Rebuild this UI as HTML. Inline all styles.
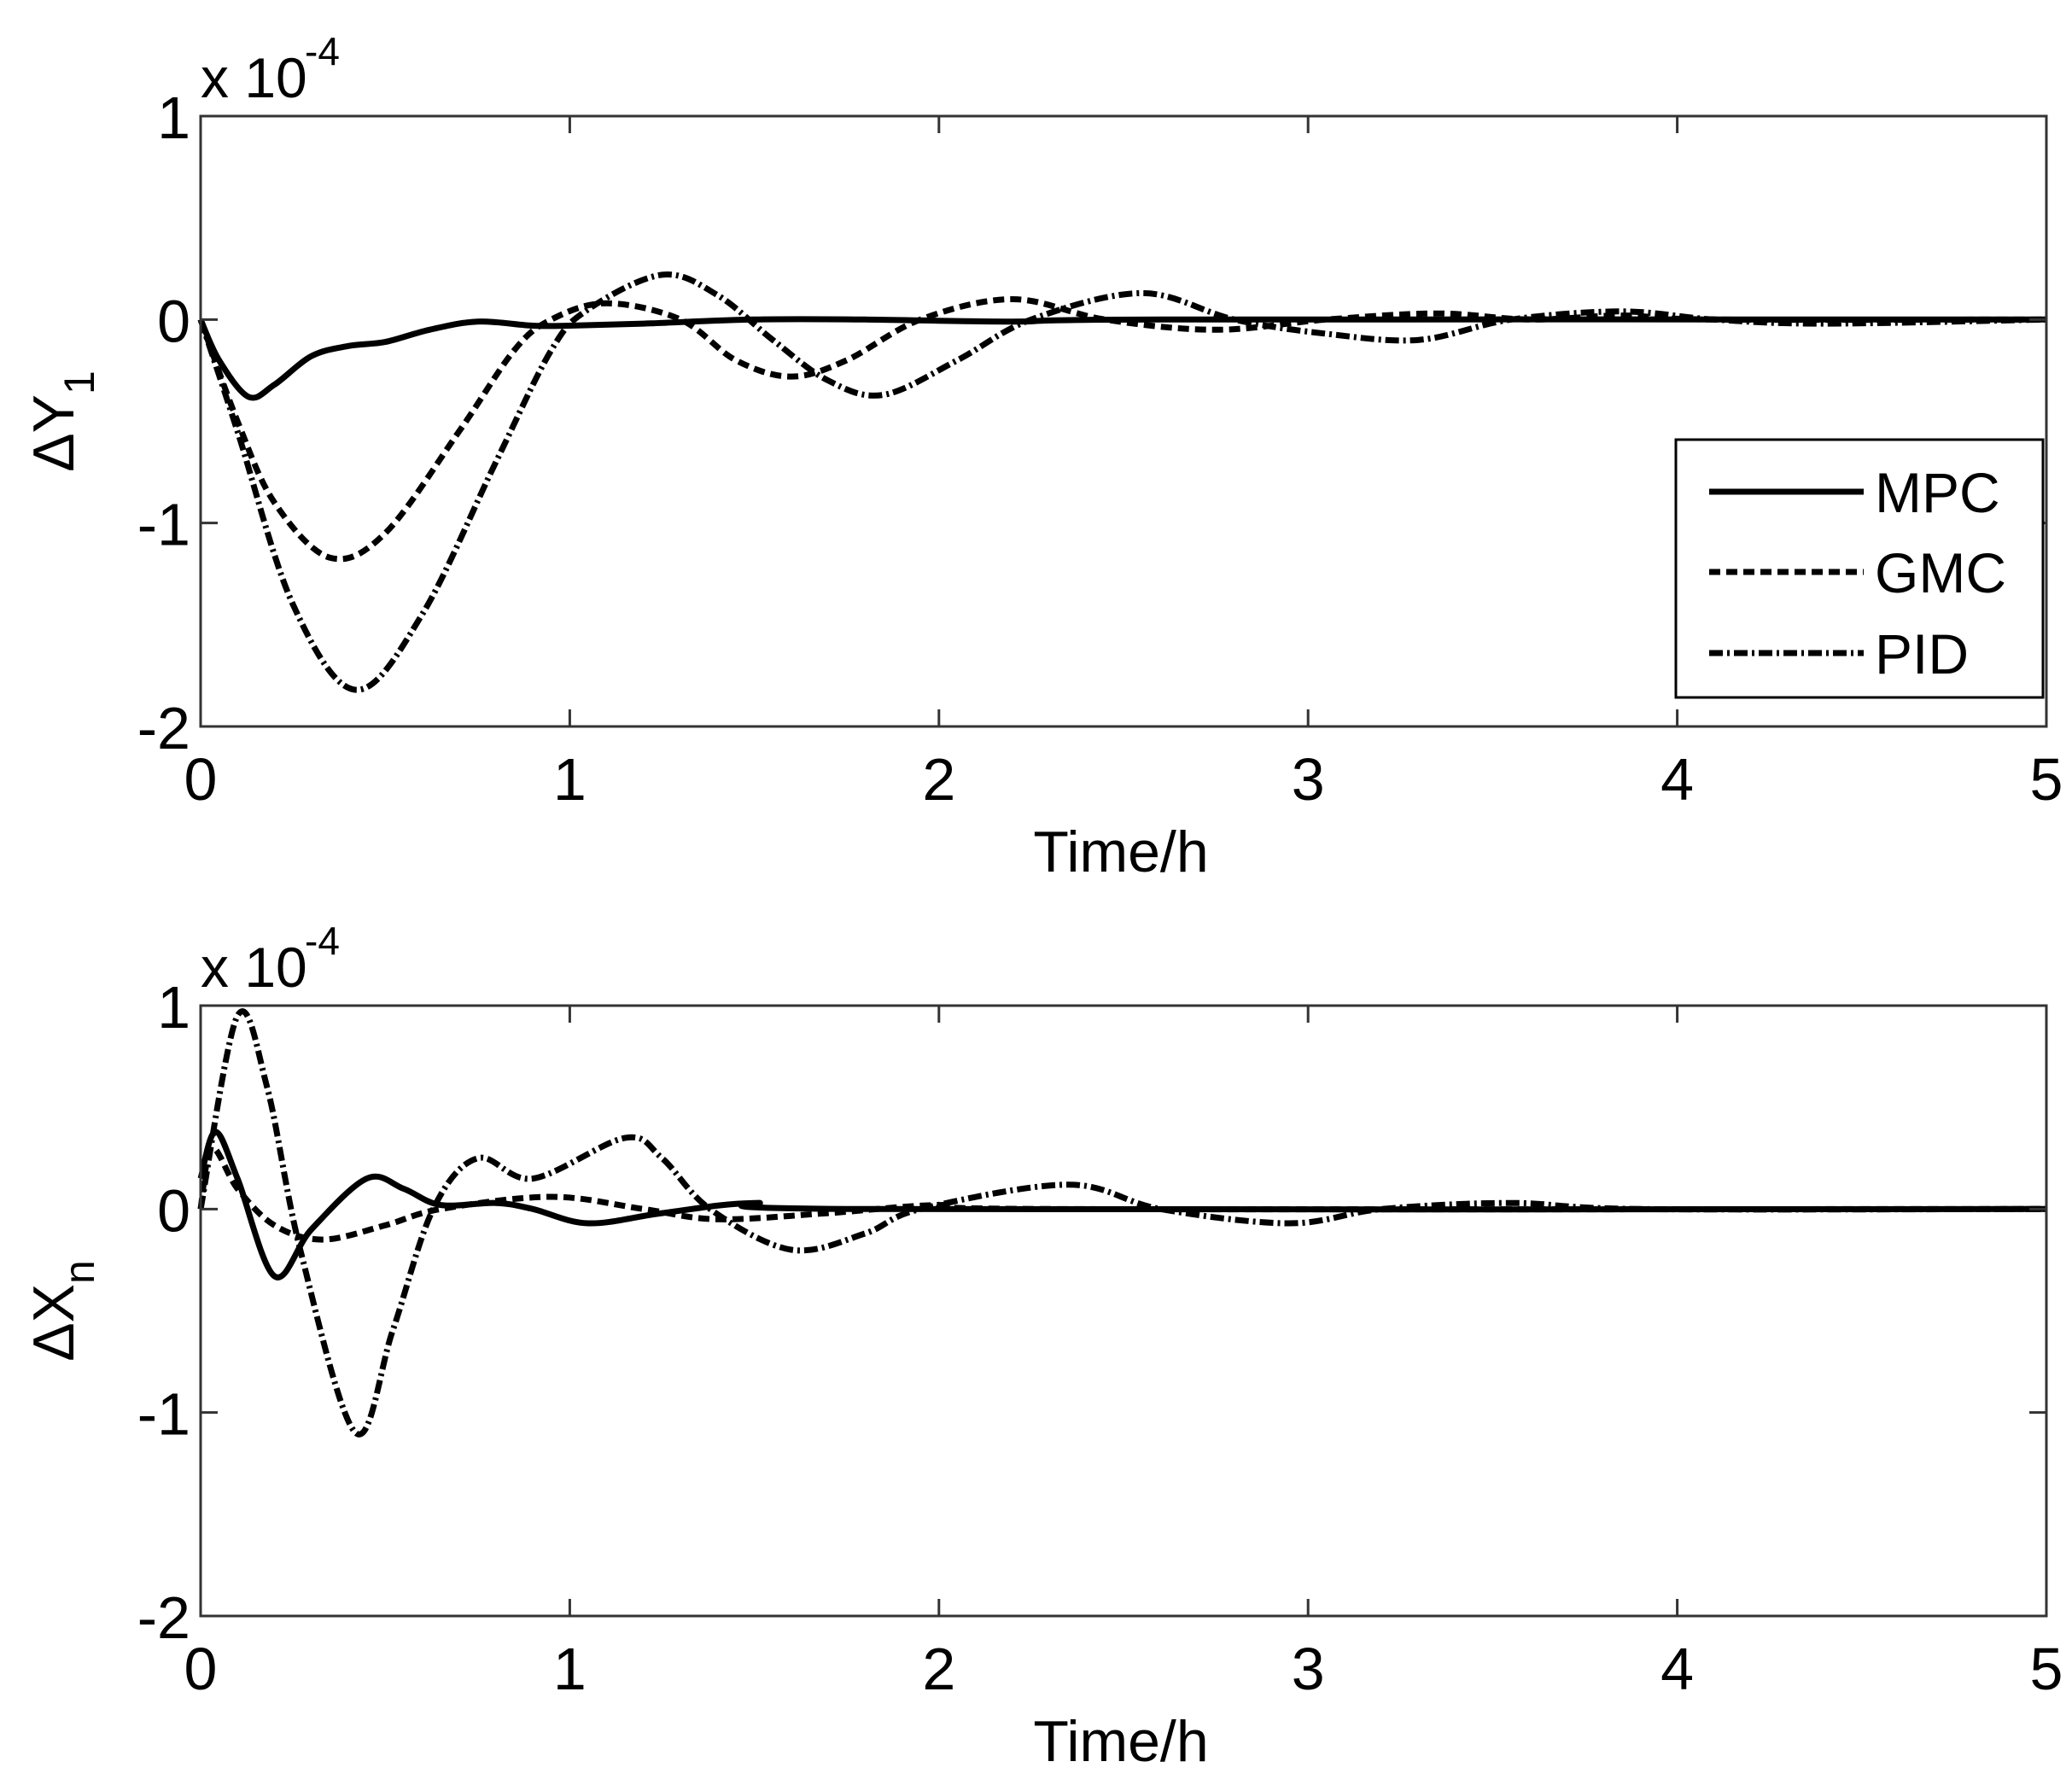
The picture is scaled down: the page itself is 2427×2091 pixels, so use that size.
<!DOCTYPE html>
<html><head><meta charset="utf-8"><style>
html,body{margin:0;padding:0;background:#fff;}
svg{display:block;font-family:"Liberation Sans",Arial,sans-serif;}
</style></head><body>
<svg id="s" width="2427" height="2091" viewBox="0 0 2427 2091" xmlns="http://www.w3.org/2000/svg">
<rect width="2427" height="2091" fill="#fff"/>
<g id="g"></g>
</svg>
<script>
var NS="http://www.w3.org/2000/svg",g=document.getElementById('g');
function el(t,a,txt){var e=document.createElementNS(NS,t);for(var k in a)e.setAttribute(k,a[k]);if(txt!=null)e.textContent=txt;g.appendChild(e);return e;}
var X0=235,X1=2397,XU=(X1-X0)/5;
function cr(pts,fx,fy){var p=pts.map(function(q){return [fx(q[0]),fy(q[1])];});var d="M"+p[0][0]+","+p[0][1];
for(var i=0;i<p.length-1;i++){var a=p[Math.max(i-1,0)],b=p[i],c=p[i+1],e=p[Math.min(i+2,p.length-1)];
var c1=[b[0]+(c[0]-a[0])/6,b[1]+(c[1]-a[1])/6],c2=[c[0]-(e[0]-b[0])/6,c[1]-(e[1]-b[1])/6];
d+=" C"+c1[0].toFixed(1)+","+c1[1].toFixed(1)+" "+c2[0].toFixed(1)+","+c2[1].toFixed(1)+" "+c[0].toFixed(1)+","+c[1].toFixed(1);}return d;}
var styles={mpc:{"stroke-width":7},gmc:{"stroke-width":7,"stroke-dasharray":"13 7"},pid:{"stroke-width":7,"stroke-dasharray":"16 5 3 5"}};
function panel(top,bot,label,sub,series){
 var zero=top+(bot-top)/3,U=(bot-top)/3;
 var fx=function(t){return X0+t*XU;},fy=function(v){return zero-v*U;};
 for(var k in series){var a={d:cr(series[k],fx,fy),fill:"none",stroke:"#000","stroke-linejoin":"round"};for(var s in styles[k])a[s]=styles[k][s];el('path',a);}
 el('rect',{x:X0,y:top,width:X1-X0,height:bot-top,fill:"none",stroke:"#333","stroke-width":3});
 for(var i=0;i<=5;i++){var x=X0+i*XU;el('line',{x1:x,y1:bot,x2:x,y2:bot-20,stroke:"#333","stroke-width":3});el('line',{x1:x,y1:top,x2:x,y2:top+20,stroke:"#333","stroke-width":3});
  el('text',{x:x,y:bot+86,"font-size":70,"text-anchor":"middle"},String(i));}
 [1,0,-1,-2].forEach(function(v){var y=fy(v);el('line',{x1:X0,y1:y,x2:X0+20,y2:y,stroke:"#333","stroke-width":3});el('line',{x1:X1,y1:y,x2:X1-20,y2:y,stroke:"#333","stroke-width":3});
  el('text',{x:X0-12,y:y+26,"font-size":70,"text-anchor":"end"},String(v));});
 el('text',{x:X0,y:top-22,"font-size":66},"x 10");
 el('text',{x:X0+122,y:top-60,"font-size":46},"-4");
 el('text',{x:1313,y:bot+170,"font-size":68,"text-anchor":"middle"},"Time/h");
 var t=el('text',{transform:"translate(86,"+((top+bot)/2)+") rotate(-90)","font-size":68,"text-anchor":"middle"},null);
 t.innerHTML='\u0394'+label+'<tspan dy="24" font-size="50">'+sub+'</tspan>';
}
panel(136,851,"Y","1",{
 mpc:[[0,0],[0.05,-0.2],[0.13,-0.38],[0.2,-0.32],[0.3,-0.18],[0.4,-0.13],[0.5,-0.11],[0.62,-0.05],[0.75,-0.01],[0.9,-0.03],[1.0,-0.03],[1.2,-0.02],[1.5,0.0],[1.8,0],[2.2,-0.01],[2.6,0],[5,0]],
 gmc:[[0,0],[0.1,-0.5],[0.2,-0.9],[0.35,-1.17],[0.5,-1.05],[0.7,-0.55],[0.85,-0.15],[0.95,0.0],[1.1,0.08],[1.3,0.0],[1.45,-0.2],[1.6,-0.28],[1.75,-0.2],[1.95,0.0],[2.2,0.1],[2.45,0.0],[2.75,-0.05],[3.05,0.0],[3.35,0.03],[3.6,0],[3.85,0.02],[4.1,0],[5,0]],
 pid:[[0,0],[0.1,-0.55],[0.25,-1.4],[0.42,-1.82],[0.6,-1.45],[0.8,-0.7],[0.95,-0.15],[1.05,0.05],[1.25,0.22],[1.4,0.12],[1.55,-0.1],[1.7,-0.3],[1.85,-0.37],[2.05,-0.2],[2.25,0.0],[2.55,0.13],[2.8,0.0],[3.05,-0.07],[3.3,-0.1],[3.55,0.0],[3.85,0.04],[4.1,0],[4.4,-0.02],[5,0]]});
panel(1178,1893,"X","n",{
 mpc:[[0,0.15],[0.04,0.38],[0.1,0.15],[0.2,-0.33],[0.3,-0.1],[0.45,0.15],[0.55,0.1],[0.65,0.02],[0.8,0.03],[0.9,0.0],[1.05,-0.07],[1.25,-0.02],[1.5,0.03],[1.8,0],[5,0]],
 gmc:[[0,0.0],[0.03,0.3],[0.1,0.1],[0.2,-0.08],[0.33,-0.15],[0.5,-0.08],[0.65,0.0],[0.95,0.06],[1.2,0.0],[1.4,-0.05],[1.7,-0.02],[2.0,0.02],[2.3,0],[5,0]],
 pid:[[0,0],[0.1,0.95],[0.18,0.6],[0.27,-0.2],[0.42,-1.1],[0.52,-0.6],[0.63,0.0],[0.75,0.25],[0.9,0.15],[1.15,0.35],[1.25,0.25],[1.38,0.0],[1.6,-0.2],[1.8,-0.12],[1.95,0.0],[2.35,0.12],[2.6,0.0],[2.95,-0.07],[3.2,0],[3.55,0.03],[3.9,0],[5,0]]});
el('rect',{x:1963,y:515,width:430,height:302,fill:"#fff",stroke:"#000","stroke-width":3});
[["MPC",576,"mpc"],["GMC",670,"gmc"],["PID",765,"pid"]].forEach(function(r){var a={x1:2002,y1:r[1],x2:2183,y2:r[1],stroke:"#000"};for(var s in styles[r[2]])a[s]=styles[r[2]][s];el('line',a);
 el('text',{x:2196,y:r[1]+24,"font-size":66},r[0]);});
</script>
</body></html>
